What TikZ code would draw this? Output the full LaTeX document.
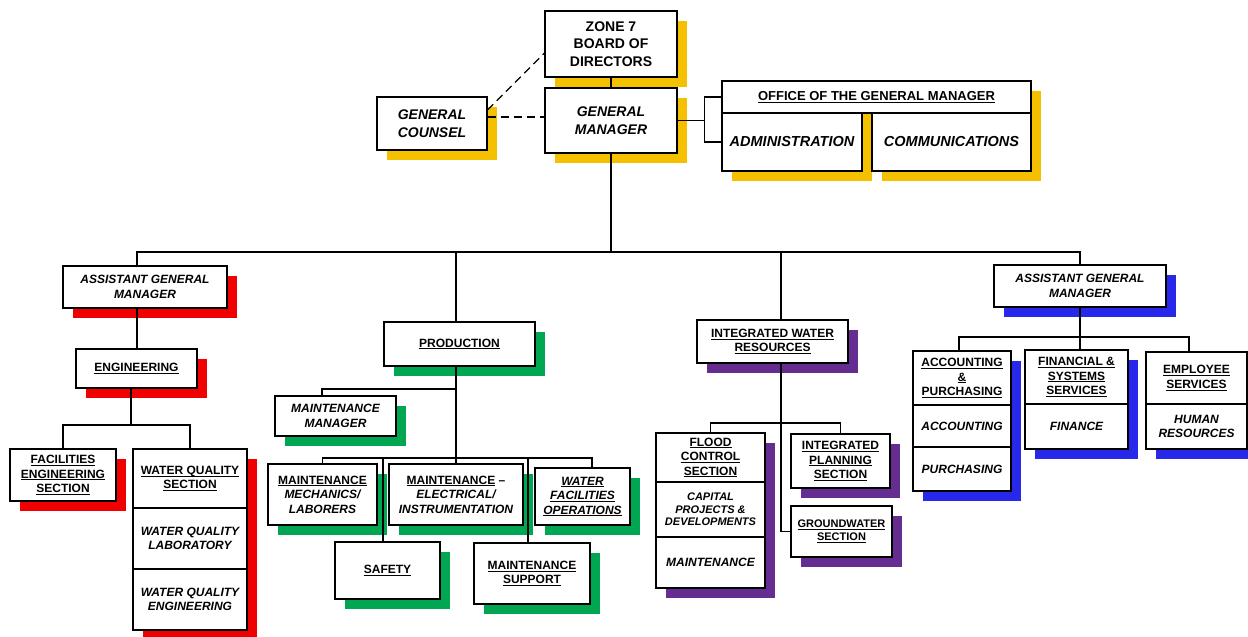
\documentclass[tikz,border=0pt]{standalone}
\usepackage{fontspec}
\setmainfont{Liberation Sans}
\usetikzlibrary{shadows}
\definecolor{cy}{RGB}{245,192,0}
\definecolor{cr}{RGB}{240,0,0}
\definecolor{cg}{RGB}{0,166,81}
\definecolor{cp}{RGB}{102,45,145}
\definecolor{cb}{RGB}{40,40,235}
\newcommand\ulx[1]{\setbox0\hbox{#1}\rlap{\rule[-2pt]{\wd0}{0.9pt}}\box0\relax}
\tikzset{
 box/.style={draw=black,line width=1.1pt,fill=white,inner sep=0pt,align=center,font=\bfseries\fontsize{12}{14.5}\selectfont},
 sh/.style={drop shadow={shadow xshift=10pt,shadow yshift=-10pt,fill=#1,opacity=1}},
 wh/.style 2 args={minimum width=#1pt,minimum height=#2pt},
 big/.style={font=\bfseries\fontsize{14}{17.5}\selectfont},
 wire/.style={draw=black,line width=1.2pt},
 dwire/.style={wire,dash pattern=on 8pt off 5pt},
}
\begin{document}
\begin{tikzpicture}[x=1pt,y=-1pt]
\path[use as bounding box,fill=white] (0,0) rectangle (1248,637);
% top
\node[box,big,sh=cy,wh={132}{66}] (zone) at (611,44) {ZONE 7\\BOARD OF\\DIRECTORS};
\node[box,big,sh=cy,wh={132}{65}] (gm) at (611,120.5) {\itshape GENERAL\\\itshape MANAGER};
\node[box,big,sh=cy,wh={110}{53}] (gc) at (432,123.5) {\itshape GENERAL\\\itshape COUNSEL};
\node[box,sh=cy,wh={309}{32},font=\bfseries\fontsize{13}{15}\selectfont] (office) at (876.5,97) {\ulx{OFFICE OF THE GENERAL MANAGER}};
\node[box,sh=cy,wh={140}{58},font=\bfseries\itshape\fontsize{14.5}{17}\selectfont] (admin) at (792,142) {ADMINISTRATION};
\node[box,sh=cy,wh={159}{58},font=\bfseries\itshape\fontsize{14.5}{17}\selectfont] (comm) at (951.5,142) {COMMUNICATIONS};
% left
\node[box,sh=cr,wh={164}{42}] (aglm) at (145,287) {\itshape ASSISTANT GENERAL\\\itshape MANAGER};
\node[box,sh=cr,wh={121}{39}] (eng) at (136.5,368.5) {\ulx{ENGINEERING}};
\node[box,sh=cr,wh={106}{52}] (fes) at (63,475) {\ulx{FACILITIES}\\\ulx{ENGINEERING}\\\ulx{SECTION}};
\node[box,sh=cr,wh={114}{181}] (wq) at (190,539.5) {};
\node[box,wh={114}{59}] (wqa) at (190,478.5) {\ulx{WATER QUALITY}\\\ulx{SECTION}};
\node[box,wh={114}{61}] (wqb) at (190,538.5) {\itshape WATER QUALITY\\\itshape LABORATORY};
\node[box,wh={114}{61}] (wqc) at (190,599.5) {\itshape WATER QUALITY\\\itshape ENGINEERING};
% production
\node[box,sh=cg,wh={151}{44}] (prod) at (459.5,344) {\ulx{PRODUCTION}};
\node[box,sh=cg,wh={121}{40}] (mm) at (335.5,416) {\itshape MAINTENANCE\\\itshape MANAGER};
\node[box,sh=cg,wh={109}{61}] (mmech) at (322.5,494.5) {\ulx{MAINTENANCE}\\\itshape MECHANICS/\\\itshape LABORERS};
\node[box,sh=cg,wh={134}{61}] (mei) at (456,494.5) {\ulx{MAINTENANCE} –\\\itshape ELECTRICAL/\\\itshape INSTRUMENTATION};
\node[box,sh=cg,wh={95}{57}] (wfo) at (582.5,496.5) {\itshape\ulx{WATER}\\\itshape\ulx{FACILITIES}\\\itshape\ulx{OPERATIONS}};
\node[box,sh=cg,wh={105}{57}] (safety) at (387.5,570.5) {\ulx{SAFETY}};
\node[box,sh=cg,wh={116}{61}] (ms) at (532,573.5) {\ulx{MAINTENANCE}\\\ulx{SUPPORT}};
% integrated water resources
\node[box,sh=cp,wh={151}{43}] (iwr) at (772.5,341.5) {\ulx{INTEGRATED WATER}\\\ulx{RESOURCES}};
\node[box,sh=cp,wh={109}{155}] (fcs) at (710.5,510.5) {};
\node[box,wh={109}{49}] (fcsa) at (710.5,457.5) {\ulx{FLOOD}\\\ulx{CONTROL}\\\ulx{SECTION}};
\node[box,wh={109}{55},font=\bfseries\itshape\fontsize{11}{12.7}\selectfont] (fcsb) at (710.5,509.5) {CAPITAL\\PROJECTS \&\\DEVELOPMENTS};
\node[box,wh={109}{51}] (fcsc) at (710.5,562.5) {\itshape MAINTENANCE};
\node[box,sh=cp,wh={99}{54}] (ip) at (840.5,461) {\ulx{INTEGRATED}\\\ulx{PLANNING}\\\ulx{SECTION}};
\node[box,sh=cp,wh={101}{51},font=\bfseries\fontsize{11}{13}\selectfont] (gw) at (841.5,531.5) {\ulx{GROUNDWATER}\\\ulx{SECTION}};
% right
\node[box,sh=cb,wh={172}{42}] (agmr) at (1080,286) {\itshape ASSISTANT GENERAL\\\itshape MANAGER};
\node[box,sh=cb,wh={98}{140}] (ap) at (962,421) {};
\node[box,wh={98}{54}] (apa) at (962,378) {\ulx{ACCOUNTING}\\\ulx{\&}\\\ulx{PURCHASING}};
\node[box,wh={98}{42}] (apb) at (962,426) {\itshape ACCOUNTING};
\node[box,wh={98}{44}] (apc) at (962,469) {\itshape PURCHASING};
\node[box,sh=cb,wh={103}{99}] (fss) at (1076.5,399.5) {};
\node[box,wh={103}{54}] (fssa) at (1076.5,377) {\ulx{FINANCIAL \&}\\\ulx{SYSTEMS}\\\ulx{SERVICES}};
\node[box,wh={103}{45}] (fssb) at (1076.5,426.5) {\itshape FINANCE};
\node[box,sh=cb,wh={101}{97}] (es) at (1196.5,400.5) {};
\node[box,wh={101}{52}] (esa) at (1196.5,378) {\ulx{EMPLOYEE}\\\ulx{SERVICES}};
\node[box,wh={101}{45}] (esb) at (1196.5,426.5) {\itshape HUMAN\\\itshape RESOURCES};
% junctions
\coordinate (bus) at (611,252);
\coordinate (ej) at (131,425);
\coordinate (pj1) at (456,389);
\coordinate (pj2) at (456,458);
\coordinate (ij) at (781,423);
\coordinate (rj) at (1080,337);
% connectors
\draw[wire] (zone) -- (gm);
\draw[dwire] ([yshift=13.5pt]gc.east) -- ([yshift=-9pt]zone.west);
\draw[dwire] ([yshift=6.5pt]gc.east) -- ([yshift=3.5pt]gm.west);
\draw[wire] (gm.east) -- ([xshift=-17pt]office.west |- gm.east);
\draw[wire] (office.west) -| ([xshift=-17pt]admin.west) -- (admin.west);
\draw[wire] (gm.south) -- (bus);
\draw[wire] ([xshift=-8pt]aglm.north) |- (bus) -| (agmr.north);
\draw[wire] ([xshift=-3.5pt]prod.north) -- ([xshift=-3.5pt]prod.north |- bus);
\draw[wire] ([xshift=8.5pt]iwr.north) -- ([xshift=8.5pt]iwr.north |- bus);
\draw[wire] ([xshift=-8pt]aglm.south) -- ([xshift=-8pt]aglm.south |- eng.north);
\draw[wire] ([xshift=-5.5pt]eng.south) -- (ej);
\draw[wire] (fes.north) |- (ej) -| (wq.north);
\draw[wire] ([xshift=-3.5pt]prod.south) -- (pj2);
\draw[wire] ([xshift=-13.5pt]mm.north) |- (pj1);
\draw[wire] (mmech.north) |- (pj2) -| ([xshift=9.5pt]wfo.north);
\draw[wire] (mei.north) -- (pj2);
\draw[wire] ([xshift=-4.5pt]safety.north) -- ([xshift=-4.5pt]safety.north |- pj2);
\draw[wire] ([xshift=-4pt]ms.north) -- ([xshift=-4pt]ms.north |- pj2);
\draw[wire] ([xshift=8.5pt]iwr.south) |- (gw.west);
\draw[wire] (fcs.north) |- (ij) -| (ip.north);
\draw[wire] (agmr.south) -- (rj);
\draw[wire] ([xshift=-3pt]ap.north) |- (rj) -| ([xshift=-7.5pt]es.north);
\draw[wire] ([xshift=3.5pt]fss.north) -- ([xshift=3.5pt]fss.north |- rj);
\end{tikzpicture}
\end{document}
